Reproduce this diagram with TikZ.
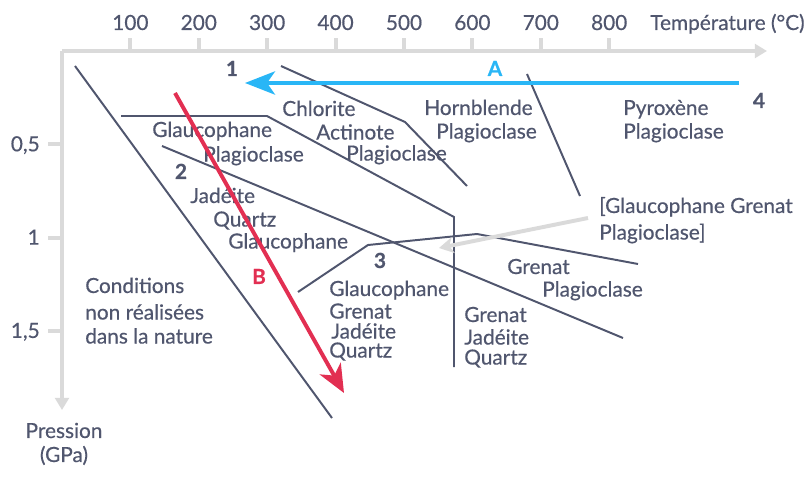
\documentclass[tikz,border=0pt]{standalone}
\usepackage{fontspec}
\setmainfont{Lato}[FakeBold=0.5]
\usetikzlibrary{calc}
\usetikzlibrary{positioning}
\usetikzlibrary{arrows.meta}
\definecolor{txtgray}{RGB}{80,86,110}
\definecolor{axisgray}{RGB}{218,218,218}
\definecolor{pathblue}{RGB}{41,182,246}
\definecolor{pathred}{RGB}{226,47,82}
\tikzstyle{axisline} = [draw=axisgray, line width=2.8pt]
\tikzstyle{limit} = [draw=txtgray, line width=1.4pt]
\tikzstyle{mineral} = [text=txtgray, text height=1.5ex, text depth=.25ex, inner sep=0pt, anchor=west, yshift=-1.8pt, font=\fontsize{14.8}{16}\selectfont]
\tikzstyle{fieldnum} = [mineral, anchor=center, font=\fontsize{14.8}{16}\selectfont\bfseries]

\begin{document}
\begin{tikzpicture}[x=0.025cm, y=-0.025cm]
    \useasboundingbox (0,0) rectangle (812,486);

    % axes
    \coordinate (orig) at (62,51);
    \coordinate (xend) at (767,51);
    \coordinate (yend) at (62,410);
    \draw[axisline, -{Triangle[length=0.3cm, width=0.34cm]}] (orig) -- (xend);
    \draw[axisline, -{Triangle[length=0.3cm, width=0.34cm]}] (orig) -- (yend);
    \foreach \t [count=\i] in {100,200,...,800} {
        \draw[axisline] ($(orig)+(68.4*\i,0)$) -- ++(0,-13);
        \node[mineral, anchor=center] (tx\i) at ($(orig)+(68.4*\i,-28)$) {\t};
    }
    \foreach \v [count=\i] in {{0,5},{1},{1,5}} {
        \draw[axisline] ($(orig)+(0,93.3*\i)$) -- ++(-14,0);
        \node[mineral, anchor=east] (ty\i) at ($(orig)+(-22,93.3*\i)$) {\v};
    }
    \node[mineral] (temp) at (650,23) {Température (°C)};
    \node[mineral, anchor=center] (press1) at (64,431) {Pression};
    \node[mineral, anchor=center] (press2) at (64,455) {(GPa)};

    % boundaries
    \coordinate (nat_a) at (75,66);
    \coordinate (nat_b) at (332,418);
    \coordinate (chl_a) at (281,66);
    \coordinate (chl_b) at (405,122);
    \coordinate (chl_c) at (467,186);
    \coordinate (gla_a) at (121,116);
    \coordinate (gla_b) at (267,116);
    \coordinate (gla_c) at (454,217);
    \coordinate (gla_d) at (454,367);
    \coordinate (jad_a) at (162,146);
    \coordinate (jad_b) at (623,338);
    \coordinate (hor_a) at (527,74);
    \coordinate (hor_b) at (580,196);
    \coordinate (gre_a) at (298,292);
    \coordinate (gre_b) at (368,245);
    \coordinate (gre_c) at (477,234);
    \coordinate (gre_d) at (638,264);
    \draw[limit] (nat_a) -- (nat_b);
    \draw[limit] (chl_a) -- (chl_b) -- (chl_c);
    \draw[limit] (gla_a) -- (gla_b) -- (gla_c) -- (gla_d);
    \draw[limit] (jad_a) -- (jad_b);
    \draw[limit] (hor_a) -- (hor_b);
    \draw[limit] (gre_a) -- (gre_b) -- (gre_c) -- (gre_d);

    % fields
    \node[mineral] (chl1) at (282,109) {Chlorite};
    \node[mineral] (chl2) at ($(chl1.west)+(34,21)$) {Actinote};
    \node[mineral] (chl3) at ($(chl1.west)+(64,42)$) {Plagioclase};
    \node[mineral] (glp1) at (152,130) {Glaucophane};
    \node[mineral] (glp2) at ($(glp1.west)+(51,22)$) {Plagioclase};
    \node[mineral] (hbl1) at (424,108) {Hornblende};
    \node[mineral] (hbl2) at ($(hbl1.west)+(12,21)$) {Plagioclase};
    \node[mineral] (pyx1) at (623,108) {Pyroxène};
    \node[mineral] (pyx2) at ($(pyx1.west)+(0,21)$) {Plagioclase};
    \node[mineral] (jdq1) at (190,196) {Jadéite};
    \node[mineral] (jdq2) at ($(jdq1.west)+(23,21)$) {Quartz};
    \node[mineral] (jdq3) at ($(jdq1.west)+(38,43)$) {Glaucophane};
    \node[mineral] (cond1) at (85,286) {Conditions};
    \node[mineral] (cond2) at ($(cond1.west)+(0,24)$) {non réalisées};
    \node[mineral] (cond3) at ($(cond1.west)+(0,48)$) {dans la nature};
    \node[mineral] (ggj1) at (329,289) {Glaucophane};
    \node[mineral] (ggj2) at ($(ggj1.west)+(0,20)$) {Grenat};
    \node[mineral] (ggj3) at ($(ggj1.west)+(2,40)$) {Jadéite};
    \node[mineral] (ggj4) at ($(ggj1.west)+(0,59)$) {Quartz};
    \node[mineral] (ggp1) at (599,206) {[Glaucophane Grenat};
    \node[mineral] (ggp2) at ($(ggp1.west)+(0,24)$) {Plagioclase]};
    \node[mineral] (grp1) at (507,267) {Grenat};
    \node[mineral] (grp2) at ($(grp1.west)+(35,20)$) {Plagioclase};
    \node[mineral] (gjq1) at (464,315) {Grenat};
    \node[mineral] (gjq2) at ($(gjq1.west)+(0,20)$) {Jadéite};
    \node[mineral] (gjq3) at ($(gjq1.west)+(0,40)$) {Quartz};

    \node[fieldnum] (f1) at (232,69) {1};
    \node[fieldnum] (f2) at (181,172) {2};
    \node[fieldnum] (f3) at (380,261) {3};
    \node[fieldnum] (f4) at (759,101) {4};

    % paths
    \coordinate (a_start) at (739,83);
    \coordinate (a_end) at (245,83);
    \draw[draw=pathblue, line width=2.8pt, -{Stealth[length=0.75cm, width=0.58cm, inset=0.2cm]}] (a_start) -- (a_end);
    \node[fieldnum, text=pathblue] (a_lbl) at (495,69) {A};
    \coordinate (b_start) at (175,93);
    \coordinate (b_end) at (344,393);
    \draw[draw=pathred, line width=2.8pt, -{Stealth[length=0.7cm, width=0.6cm, inset=0.2cm]}] (b_start) -- (b_end);
    \node[fieldnum, text=pathred] (b_lbl) at (259,277) {B};
    \coordinate (g_start) at (588,218);
    \draw[axisline, -{Stealth[length=0.36cm, width=0.4cm, inset=0.1cm]}] (g_start) -- (439,248);
\end{tikzpicture}
\end{document}
